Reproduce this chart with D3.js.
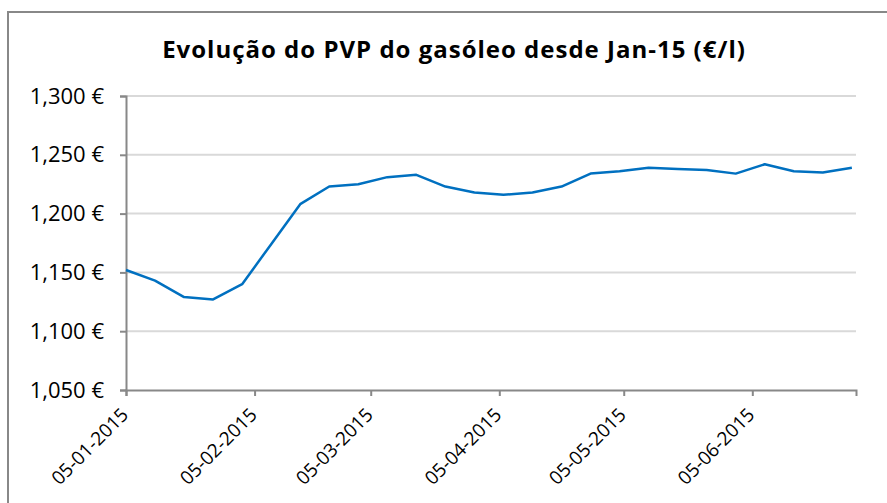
<!DOCTYPE html>
<html>
<head>
<meta charset="utf-8">
<script src="https://cdn.jsdelivr.net/npm/d3@7"></script>
<style>
  body { margin: 0; background: #fff; }
  svg { display: block; }
</style>
</head>
<body>
<script>
var w = 887;
var h = 503;

// weekly prices, starting 05-01-2015
var startDate = "2015-01-05";
var prices = [1.152, 1.143, 1.129, 1.127, 1.140, 1.174, 1.208, 1.223, 1.225, 1.231,
  1.233, 1.223, 1.218, 1.216, 1.218, 1.223, 1.234, 1.236, 1.239, 1.238,
  1.237, 1.234, 1.242, 1.236, 1.235, 1.239];
var tickDates = ["2015-01-05", "2015-02-05", "2015-03-05", "2015-04-05", "2015-05-05", "2015-06-05"];
var yTicks = [1.05, 1.10, 1.15, 1.20, 1.25, 1.30];
var title = "Evolução do PVP do gasóleo desde Jan-15 (€/l)";

var parse = d3.utcParse("%Y-%m-%d");
var start = parse(startDate);
var data = prices.map(function (v, i) {
  return { date: d3.utcDay.offset(start, i * 7), value: v };
});

var font = "'Open Sans', sans-serif";

var svg = d3.select("body").append("svg").attr("width", w).attr("height", h);

// outer frame
svg.append("rect")
  .attr("x", 8).attr("y", 12)
  .attr("width", 890).attr("height", 500)
  .attr("fill", "none")
  .attr("stroke", "#888888")
  .attr("stroke-width", 2);

svg.append("text")
  .attr("x", 454).attr("y", 58)
  .attr("text-anchor", "middle")
  .attr("font-family", font)
  .attr("font-weight", "bold")
  .attr("font-size", 24)
  .attr("letter-spacing", 1)
  .attr("fill", "#000")
  .text(title);

var x = d3.scaleUtc()
  .domain([start, parse("2015-06-30")])
  .range([126, 856]);

var y = d3.scaleLinear()
  .domain([1.05, 1.30])
  .range([390, 96]);

var fmtY = function (d) {
  return d3.format(".3f")(d).replace(".", ",") + " €";
};

// gridlines
svg.append("g")
  .selectAll("line")
  .data(yTicks.slice(1))
  .enter()
  .append("line")
  .attr("x1", 126).attr("x2", 856)
  .attr("y1", function (d) { return y(d); })
  .attr("y2", function (d) { return y(d); })
  .attr("stroke", "#d9d9d9")
  .attr("stroke-width", 2);

var yAxis = svg.append("g")
  .attr("transform", "translate(126,0)")
  .call(d3.axisLeft(y).tickValues(yTicks).tickSize(6).tickPadding(16).tickFormat(fmtY));
yAxis.select(".domain").attr("stroke", "#888888").attr("stroke-width", 2);
yAxis.selectAll(".tick line").attr("stroke", "#888888").attr("stroke-width", 2);
yAxis.selectAll("text")
  .attr("font-family", font)
  .attr("font-size", 22)
  .attr("fill", "#000");

var xAxis = svg.append("g")
  .attr("transform", "translate(0,390)")
  .call(d3.axisBottom(x)
    .tickValues(tickDates.map(parse))
    .tickSize(6)
    .tickFormat(d3.utcFormat("%d-%m-%Y")));
xAxis.select(".domain").attr("stroke", "#888888").attr("stroke-width", 2);
xAxis.selectAll(".tick line").attr("stroke", "#888888").attr("stroke-width", 2);
xAxis.selectAll("text")
  .attr("font-family", font)
  .attr("font-size", 19)
  .attr("fill", "#000")
  .attr("text-anchor", "end")
  .attr("dy", null)
  .attr("y", 0)
  .attr("transform", "translate(3,26) rotate(-45)");

var line = d3.line()
  .x(function (d) { return x(d.date); })
  .y(function (d) { return y(d.value); });

svg.append("path")
  .datum(data)
  .attr("d", line)
  .attr("fill", "none")
  .attr("stroke", "#0070C0")
  .attr("stroke-width", 2.5)
  .attr("stroke-linejoin", "round");
</script>
</body>
</html>
